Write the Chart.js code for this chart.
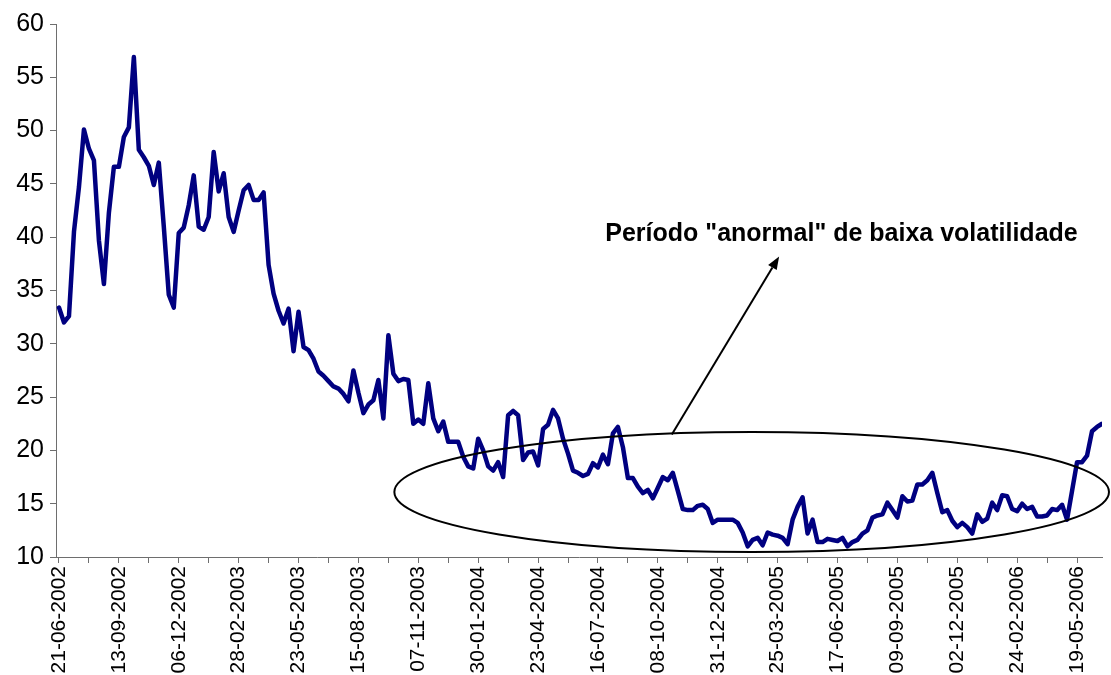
<!DOCTYPE html>
<html>
<head>
<meta charset="utf-8">
<script src="https://cdn.jsdelivr.net/npm/chart.js@4/dist/chart.umd.min.js"></script>
<style>
html,body{margin:0;padding:0;background:#ffffff;}
#wrap{width:1111px;height:675px;}
</style>
</head>
<body>
<div id="wrap"><canvas id="c" width="1111" height="675"></canvas></div>
<script>
// Tick labels shown on the category axis (every 12th weekly observation)
const tickLabels = ['21-06-2002','13-09-2002','06-12-2002','28-02-2003','23-05-2003','15-08-2003',
  '07-11-2003','30-01-2004','23-04-2004','16-07-2004','08-10-2004','31-12-2004',
  '25-03-2005','17-06-2005','09-09-2005','02-12-2005','24-02-2006','19-05-2006'];

// Weekly values
const values = [
  33.4, 32.0, 32.6, 40.5, 44.7, 50.1, 48.3, 47.2, 39.7, 35.6,
  42.3, 46.6, 46.6, 49.4, 50.3, 56.9, 48.2, 47.5, 46.7, 44.9,
  47.0, 41.0, 34.6, 33.4, 40.4, 40.9, 43.0, 45.8, 41.0, 40.7,
  41.9, 48.0, 44.3, 46.0, 41.9, 40.5, 42.5, 44.4, 44.9, 43.5,
  43.5, 44.2, 37.4, 34.7, 33.1, 31.9, 33.3, 29.3, 33.0, 29.7,
  29.4, 28.6, 27.4, 27.0, 26.5, 26.0, 25.8, 25.3, 24.6, 27.5,
  25.4, 23.5, 24.3, 24.7, 26.6, 23.0, 30.8, 27.2, 26.5, 26.7,
  26.6, 22.5, 22.9, 22.5, 26.3, 23.0, 21.8, 22.7, 20.8, 20.8,
  20.8, 19.4, 18.5, 18.3, 21.1, 20.0, 18.5, 18.1, 18.9, 17.5,
  23.3, 23.7, 23.3, 19.1, 19.8, 19.9, 18.6, 22.0, 22.4, 23.8,
  23.0, 21.1, 19.7, 18.1, 17.9, 17.6, 17.8, 18.8, 18.4, 19.6,
  18.7, 21.6, 22.2, 20.3, 17.4, 17.4, 16.6, 16.0, 16.3, 15.5,
  16.5, 17.5, 17.2, 17.9, 16.2, 14.5, 14.4, 14.4, 14.8, 14.9,
  14.5, 13.2, 13.5, 13.5, 13.5, 13.5, 13.2, 12.3, 11.0, 11.6,
  11.8, 11.1, 12.3, 12.1, 12.0, 11.8, 11.2, 13.5, 14.7, 15.6,
  12.2, 13.5, 11.4, 11.4, 11.7, 11.6, 11.5, 11.8, 11.0, 11.4,
  11.6, 12.2, 12.5, 13.7, 13.9, 14.0, 15.1, 14.4, 13.7, 15.7,
  15.2, 15.3, 16.8, 16.8, 17.2, 17.9, 16.0, 14.2, 14.4, 13.4,
  12.8, 13.2, 12.8, 12.2, 14.0, 13.3, 13.6, 15.1, 14.4, 15.8,
  15.7, 14.5, 14.3, 15.0, 14.5, 14.7, 13.8, 13.8, 13.9, 14.5,
  14.4, 14.9, 13.5, 16.2, 18.9, 18.9, 19.5, 21.8, 22.2, 22.5
];

const labelEvery = 12;
const tickEvery = 6;
const xMin = -0.6, xMax = values.length - 1;
const yMin = 10, yMax = 60, yStep = 5;

// Annotation (in data units: observation index / value)
const noteText = 'Período "anormal" de baixa volatilidade';
const noteAt = {i: 156.8, v: 40.3};
const arrowFrom = {i: 122.8, v: 21.5};
const arrowTo = {i: 144.3, v: 38.2};
const ellipseSpec = {i: 138.8, v: 16.1, ri: 71.6, rv: 5.63};

const FONT = '"Liberation Sans", Arial, sans-serif';

const notes = {
  id: 'notes',
  afterDatasetsDraw(chart) {
    const {ctx, scales: {x, y}} = chart;
    ctx.save();
    ctx.strokeStyle = '#000';
    ctx.fillStyle = '#000';
    ctx.lineWidth = 2;
    const cx = x.getPixelForValue(ellipseSpec.i);
    const cy = y.getPixelForValue(ellipseSpec.v);
    const rx = x.getPixelForValue(ellipseSpec.i + ellipseSpec.ri) - cx;
    const ry = cy - y.getPixelForValue(ellipseSpec.v + ellipseSpec.rv);
    ctx.beginPath();
    ctx.ellipse(cx, cy, rx, ry, 0, 0, Math.PI * 2);
    ctx.stroke();
    const x1 = x.getPixelForValue(arrowFrom.i), y1 = y.getPixelForValue(arrowFrom.v);
    const x2 = x.getPixelForValue(arrowTo.i), y2 = y.getPixelForValue(arrowTo.v);
    const ang = Math.atan2(y2 - y1, x2 - x1);
    const hl = 13, hw = 5;
    const bx = x2 - hl * Math.cos(ang), by = y2 - hl * Math.sin(ang);
    ctx.beginPath();
    ctx.moveTo(x1, y1);
    ctx.lineTo(bx, by);
    ctx.stroke();
    ctx.beginPath();
    ctx.moveTo(x2, y2);
    ctx.lineTo(bx + hw * Math.sin(ang), by - hw * Math.cos(ang));
    ctx.lineTo(bx - hw * Math.sin(ang), by + hw * Math.cos(ang));
    ctx.closePath();
    ctx.fill();
    ctx.font = 'bold 25px ' + FONT;
    ctx.textAlign = 'center';
    ctx.textBaseline = 'middle';
    ctx.fillText(noteText, x.getPixelForValue(noteAt.i), y.getPixelForValue(noteAt.v));
    ctx.restore();
  }
};

new Chart(document.getElementById('c'), {
  type: 'line',
  data: {
    datasets: [{
      data: values.map((v, i) => ({x: i, y: v})),
      borderColor: '#000080',
      borderWidth: 4.5,
      pointRadius: 0,
      tension: 0,
      fill: false,
      borderJoinStyle: 'round',
      borderCapStyle: 'round'
    }]
  },
  options: {
    responsive: false,
    animation: false,
    events: [],
    layout: {padding: {top: 24, right: 9, bottom: 0, left: 0}},
    plugins: {legend: {display: false}, tooltip: {enabled: false}, title: {display: false}},
    scales: {
      x: {
        type: 'linear',
        min: xMin,
        max: xMax,
        border: {display: true, color: '#6e6e6e', width: 1},
        grid: {drawOnChartArea: false, drawTicks: true, tickLength: 6, color: '#6e6e6e'},
        afterBuildTicks(s) {
          const t = [];
          for (let k = 0; k <= xMax; k += tickEvery) t.push({value: k});
          s.ticks = t;
        },
        ticks: {
          autoSkip: false,
          minRotation: 90,
          maxRotation: 90,
          padding: 3,
          color: '#000',
          font: {family: FONT, size: 21},
          callback: (val) => (val % labelEvery === 0 ? tickLabels[val / labelEvery] : '')
        },
        afterFit(s) { s.height = 118; s.paddingLeft = 0; s.paddingRight = 0; }
      },
      y: {
        min: yMin,
        max: yMax,
        border: {display: true, color: '#6e6e6e', width: 1},
        grid: {drawOnChartArea: false, drawTicks: true, tickLength: 6, color: '#6e6e6e'},
        ticks: {stepSize: yStep, padding: 6, color: '#000', font: {family: FONT, size: 25}},
        afterFit(s) { s.width = 56; }
      }
    }
  },
  plugins: [notes]
});
</script>
</body>
</html>
